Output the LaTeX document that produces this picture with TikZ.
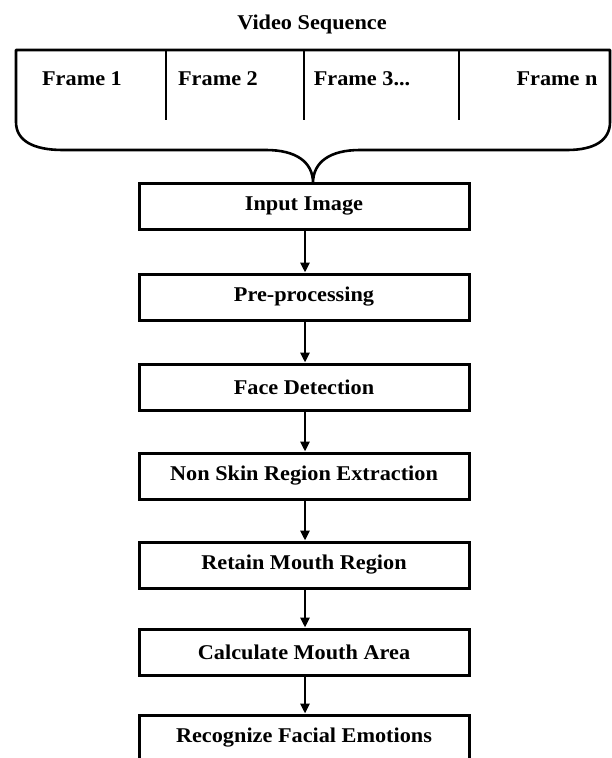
\documentclass[tikz,border=0pt]{standalone}
\usepackage{fontspec}
\setmainfont{Liberation Serif}[FakeStretch=1.06]
\usetikzlibrary{arrows.meta}
\begin{document}
\begin{tikzpicture}[x=1pt,y=-1pt,
  stepbox/.style={draw,line width=3pt,minimum width=330pt,minimum height=46pt,inner sep=0pt,font=\fontsize{21}{25}\selectfont\bfseries},
  lbl/.style={font=\fontsize{21}{25}\selectfont\bfseries,inner sep=0pt,anchor=base},
  flow/.style={line width=2.5pt,-{Triangle[width=9pt,length=10pt]}},
  brace/.style={line width=2.6pt,line join=round}]
\useasboundingbox (0,0) rectangle (612,758);
% title
\node[lbl] (title) at (312,29) {Video Sequence};
% brace / frame container
\draw[brace] (16,50) -- (610,50) -- (610,122)
  .. controls (610,140) and (595,150) .. (567,150) -- (360,150)
  .. controls (330,150) and (313,162) .. (313,183)
  .. controls (313,162) and (296,150) .. (266,150) -- (63,150)
  .. controls (32,150) and (16,140) .. (16,122) -- cycle;
\draw[brace] (166,50) -- (166,120);
\draw[brace] (304,50) -- (304,120);
\draw[brace] (459,50) -- (459,120);
\node[lbl] (f1) at (82,85) {Frame 1};
\node[lbl] (f2) at (218,85) {Frame 2};
\node[lbl] (f3) at (362,85) {Frame 3...};
\node[lbl] (fn) at (557,85) {Frame n};
% process boxes
\node[stepbox] (n1) at (304,206) {Input Image};
\node[stepbox] (n2) at (304,297) {Pre-processing};
\node[stepbox] (n3) at (304,387) {Face Detection};
\node[stepbox] (n4) at (304,476) {Non Skin Region Extraction};
\node[stepbox] (n5) at (304,565) {Retain Mouth Region};
\node[stepbox] (n6) at (304,652) {Calculate Mouth Area};
\node[stepbox] (n7) at (304,738) {Recognize Facial Emotions};
% arrows
\foreach \a/\b in {n1/n2,n2/n3,n3/n4,n4/n5,n5/n6,n6/n7}
  \draw[flow] ([xshift=1pt]\a.south) -- ([xshift=1pt]\b.north);
\end{tikzpicture}
\end{document}
